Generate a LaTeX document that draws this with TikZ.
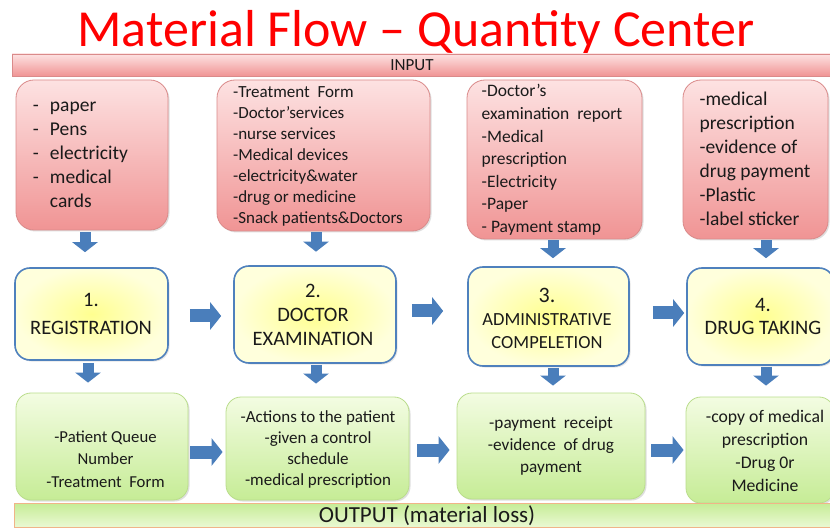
\documentclass[tikz,border=0pt]{standalone}
\usepackage{fontspec}
\setmainfont{Carlito}
\usetikzlibrary{arrows.meta,calc,shadows}
\definecolor{titlered}{HTML}{FF0000}
\definecolor{pinktop}{HTML}{FDE2E2}
\definecolor{pinkbot}{HTML}{F09494}
\definecolor{pinkline}{HTML}{DA8A8A}
\definecolor{yelin}{HTML}{FFFF90}
\definecolor{yelout}{HTML}{FFFFDC}
\definecolor{blueline}{HTML}{4F81BD}
\definecolor{arrowblue}{HTML}{4A7EBB}
\definecolor{greentop}{HTML}{F3FCE2}
\definecolor{greenbot}{HTML}{C6EC96}
\definecolor{greenline}{HTML}{BADD8C}
\definecolor{outline}{HTML}{F0B488}
\definecolor{txt}{HTML}{1A1A1A}
\tikzset{
  inbox/.style={rectangle, rounded corners=18pt, draw=pinkline, line width=0.8pt,
    top color=pinktop, bottom color=pinkbot, inner sep=0pt,
    drop shadow={shadow xshift=1.5pt, shadow yshift=-1.5pt, opacity=0.25}},
  procbox/.style={rectangle, rounded corners=15pt, draw=blueline, line width=1.6pt,
    inner color=yelin, outer color=yelout, inner sep=0pt,
    drop shadow={shadow xshift=1.5pt, shadow yshift=-1.5pt, opacity=0.2}},
  outbox/.style={rectangle, rounded corners=15pt, draw=greenline, line width=0.8pt,
    top color=greentop, bottom color=greenbot, inner sep=0pt,
    drop shadow={shadow xshift=1.5pt, shadow yshift=-1.5pt, opacity=0.25}},
  inbar/.style={rectangle, draw=pinkline, line width=0.8pt, top color=pinktop, bottom color=pinkbot, inner sep=0pt},
  outbar/.style={rectangle, draw=outline, line width=1pt, top color=greenbot, bottom color=greentop!80!greenbot, inner sep=0pt},
  boxtext/.style={text=txt, inner sep=0pt},
  darr/.style={draw=arrowblue, line width=11pt, -{Triangle[width=25pt,length=10pt]}},
  rarr/.style={draw=arrowblue, line width=13pt, -{Triangle[width=27pt,length=11pt]}},
}
\begin{document}
\begin{tikzpicture}[x=1pt,y=-1pt]
\useasboundingbox (0,0) rectangle (830,529);
\fill[white] (0,0) rectangle (830,529);

% title
\node[text=titlered, anchor=base, inner sep=0pt, font=\fontsize{52}{54}\selectfont] (title) at (416,47) {Material Flow -- Quantity Center};

% input bar
\node[inbar, minimum width=820pt, minimum height=22pt] (inbar) at (422,65) {};
\node[boxtext, font=\fontsize{17}{20}\selectfont] (intext) at (412,65.5) {INPUT};

% input boxes
\node[inbox, minimum width=152pt, minimum height=150pt] (in1) at (92,155) {};
\node[inbox, minimum width=213pt, minimum height=151pt] (in2) at (323.5,155.5) {};
\node[inbox, minimum width=175pt, minimum height=159pt] (in3) at (554.5,159.5) {};
\node[inbox, minimum width=145pt, minimum height=159pt] (in4) at (755.5,159.5) {};

\node[boxtext, align=left, font=\fontsize{19.5}{24}\selectfont] (in1t) at (80.5,155)
  {\makebox[17pt][l]{-}paper\\\makebox[17pt][l]{-}Pens\\\makebox[17pt][l]{-}electricity\\\makebox[17pt][l]{-}medical\\\makebox[17pt][l]{}cards};
\node[boxtext, align=left, font=\fontsize{17}{21}\selectfont] (in2t) at (318,156)
  {-Treatment\ \ Form\\-Doctor’services\\-nurse services\\-Medical devices\\-electricity\&water\\-drug or medicine\\-Snack patients\&Doctors};
\node[boxtext, align=left, font=\fontsize{17.5}{22.6}\selectfont] (in3t) at (552,160)
  {-Doctor's\\examination\ \ report\\-Medical\\prescription\\-Electricity\\-Paper\\- Payment stamp};
\node[boxtext, align=left, font=\fontsize{19.5}{24}\selectfont] (in4t) at (755,159)
  {-medical\\prescription\\-evidence of\\drug payment\\-Plastic\\-label sticker};

% process boxes
\node[procbox, minimum width=153pt, minimum height=92pt] (p1) at (91.5,314) {};
\node[procbox, minimum width=162pt, minimum height=97pt] (p2) at (315,314.5) {};
\node[procbox, minimum width=161pt, minimum height=99pt] (p3) at (548.5,316.5) {};
\node[procbox, minimum width=147pt, minimum height=97pt] (p4) at (760.5,316.5) {};

\node[boxtext, align=center, font=\fontsize{20.5}{28}\selectfont] (p1t) at (91,314) {1.\\REGISTRATION};
\node[boxtext, align=center, font=\fontsize{20.5}{24}\selectfont] (p2t) at (313,315) {2.\\DOCTOR\\EXAMINATION};
\node[boxtext, align=center, font=\fontsize{18.5}{23}\selectfont] (p3t) at (547,318) {{\fontsize{22}{23}\selectfont 3.}\\ADMINISTRATIVE\\COMPELETION};
\node[boxtext, align=center, font=\fontsize{20.5}{23}\selectfont] (p4t) at (763,316) {4.\\DRUG TAKING};

% output boxes
\node[outbox, minimum width=172pt, minimum height=107pt] (o1) at (102,446.5) {};
\node[outbox, minimum width=183pt, minimum height=103pt] (o2) at (317.5,448.5) {};
\node[outbox, minimum width=188pt, minimum height=106pt] (o3) at (551,446) {};
\node[outbox, minimum width=148pt, minimum height=106pt] (o4) at (760,450) {};

\node[boxtext, align=center, font=\fontsize{16.7}{22.5}\selectfont] (o1t) at (105.5,459) {-Patient Queue\\Number\\-Treatment\ \ Form};
\node[boxtext, align=center, font=\fontsize{17}{21}\selectfont] (o2t) at (318,449) {-Actions to the patient\\-given a control\\schedule\\-medical prescription};
\node[boxtext, align=center, font=\fontsize{17.2}{22}\selectfont] (o3t) at (551,446) {-payment\ \ receipt\\-evidence\ \ of drug\\payment};
\node[boxtext, align=center, font=\fontsize{17.7}{23}\selectfont] (o4t) at (765,451) {-copy of medical\\prescription\\-Drug 0r\\Medicine};

% output bar
\node[outbar, minimum width=818pt, minimum height=24pt] (outbar) at (423,515) {};
\node[boxtext, font=\fontsize{23}{24}\selectfont] (outtext) at (427,516) {OUTPUT (material loss)};

% arrows input -> process
\draw[darr] ($(in1.south)+(-7,2)$) -- ($(p1.north)+(-6.5,-15)$);
\draw[darr] ($(in2.south)+(-7.5,1)$) -- ($(p2.north)+(1,-13.5)$);
\draw[darr] ($(in3.south)+(-1.5,1)$) -- ($(p3.north)+(4.5,-8)$);
\draw[darr] ($(in4.south)+(10.5,1)$) -- ($(p4.north)+(5.5,-9)$);

% arrows process -> output
\draw[darr] ($(p1.south)+(-3.5,2)$) -- ($(o1.north)+(-14,-10)$);
\draw[darr] ($(p2.south)+(1,1)$) -- ($(o2.north)+(-1.5,-13)$);
\draw[darr] ($(p3.south)+(4.5,1)$) -- ($(o3.north)+(2,-7)$);
\draw[darr] ($(p4.south)+(5.5,1)$) -- ($(o4.north)+(6,-11)$);

% arrows process row
\draw[rarr] ($(p1.east)+(21,2)$) -- ($(p2.west)+(-12,1.5)$);
\draw[rarr] ($(p2.east)+(15,-3.5)$) -- ($(p3.west)+(-24,-5.5)$);
\draw[rarr] ($(p3.east)+(23,-3.5)$) -- ($(p4.west)+(-2,-3.5)$);

% arrows output row
\draw[rarr] ($(o1.east)+(2,5.5)$) -- ($(o2.west)+(-3,3.5)$);
\draw[rarr] ($(o2.east)+(8,1.5)$) -- ($(o3.west)+(-7,4)$);
\draw[rarr] ($(o3.east)+(6,4)$) -- ($(o4.west)+(-2,0)$);
\end{tikzpicture}
\end{document}
